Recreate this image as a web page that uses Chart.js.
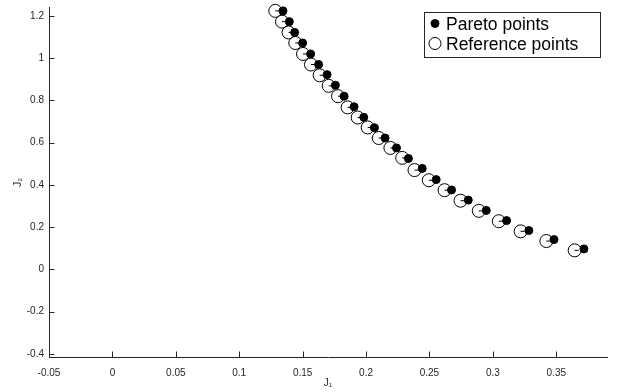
<!DOCTYPE html>
<html>
<head>
<meta charset="utf-8">
<script src="https://cdn.jsdelivr.net/npm/chart.js@4.4.0/dist/chart.umd.min.js"></script>
<style>
  html, body { margin: 0; padding: 0; background: #fff; }
  #wrap { width: 620px; height: 392px; position: relative; }
</style>
</head>
<body>
<div id="wrap"><canvas id="c" width="620" height="392"></canvas></div>
<script>
// ---- data ----
const paretoJ1 = [0.1345, 0.1395, 0.1437, 0.1500, 0.1563, 0.1626, 0.1693, 0.1758, 0.1827, 0.1906, 0.1982, 0.2066,
                  0.2150, 0.2240, 0.2334, 0.2443, 0.2553, 0.2674, 0.2806, 0.2948, 0.3108, 0.3284, 0.3482, 0.3718];
const paretoJ2 = [1.224, 1.173, 1.122, 1.072, 1.020, 0.970, 0.922, 0.872, 0.820, 0.770, 0.720, 0.670,
                  0.622, 0.575, 0.525, 0.478, 0.425, 0.376, 0.328, 0.279, 0.231, 0.184, 0.141, 0.097];
const refJ1 = [0.1284, 0.1337, 0.1389, 0.1442, 0.1503, 0.1566, 0.1634, 0.1705, 0.1779, 0.1855, 0.1934, 0.2013,
               0.2100, 0.2192, 0.2285, 0.2382, 0.2495, 0.2619, 0.2745, 0.2889, 0.3047, 0.3219, 0.3422, 0.3645];
const refJ2 = [1.224, 1.173, 1.122, 1.072, 1.020, 0.970, 0.919, 0.869, 0.820, 0.767, 0.719, 0.672,
               0.622, 0.575, 0.528, 0.470, 0.422, 0.375, 0.325, 0.277, 0.228, 0.180, 0.134, 0.090];
const seriesLabels = ['Pareto points', 'Reference points'];
const xAxisLabel = 'J\u2081';
const yAxisLabel = 'J\u2082';
const xTickStep = 0.05;
const yTickStep = 0.2;

const toPoints = (xs, ys) => xs.map((x, i) => ({ x: x, y: ys[i] }));
const FONT = "'Liberation Sans', Arial, Helvetica, 'DejaVu Sans', sans-serif";
const AXIS = '#262626';

// inward tick marks (MATLAB style)
const inwardTicks = {
  id: 'inwardTicks',
  afterDraw(chart) {
    const { ctx, chartArea } = chart;
    const xs = chart.scales.x, ys = chart.scales.y;
    ctx.save();
    ctx.strokeStyle = AXIS;
    ctx.lineWidth = 1;
    ctx.beginPath();
    xs.ticks.forEach(t => {
      const p = Math.round(xs.getPixelForValue(t.value)) + 0.5;
      ctx.moveTo(p, chartArea.bottom);
      ctx.lineTo(p, chartArea.bottom - 5.5);
    });
    ys.ticks.forEach(t => {
      const p = Math.round(ys.getPixelForValue(t.value)) + 0.5;
      ctx.moveTo(chartArea.left, p);
      ctx.lineTo(chartArea.left + 5.5, p);
    });
    ctx.stroke();
    ctx.restore();
  }
};

// boxed legend in upper right
const boxLegend = {
  id: 'boxLegend',
  afterDraw(chart) {
    const ctx = chart.ctx;
    const items = chart.data.datasets.filter(d => !d.hideInLegend);
    const bx = 424.5, by = 12.5, bw = 176, bh = 45;
    ctx.save();
    ctx.fillStyle = '#fff';
    ctx.fillRect(bx, by, bw, bh);
    ctx.strokeStyle = AXIS;
    ctx.lineWidth = 1;
    ctx.strokeRect(bx, by, bw, bh);
    ctx.font = '17.5px ' + FONT;
    ctx.textBaseline = 'alphabetic';
    ctx.textAlign = 'left';
    const rows = [23.5, 43.5];
    items.forEach((d, i) => {
      const cy = rows[i];
      const r = i === 0 ? 4 : 6;
      ctx.beginPath();
      ctx.arc(435, cy, r, 0, Math.PI * 2);
      if (d.backgroundColor && d.backgroundColor !== 'rgba(0,0,0,0)') {
        ctx.fillStyle = d.backgroundColor;
        ctx.fill();
      }
      ctx.strokeStyle = d.borderColor;
      ctx.lineWidth = 1;
      ctx.stroke();
      ctx.fillStyle = '#000';
      ctx.fillText(d.label, 446, cy + 6.3);
    });
    ctx.restore();
  }
};

const tickFmt = v => String(Math.round(v * 100) / 100);

new Chart(document.getElementById('c'), {
  type: 'scatter',
  data: {
    datasets: [
      {
        label: seriesLabels[0],
        data: toPoints(paretoJ1, paretoJ2),
        pointStyle: 'circle',
        pointRadius: 4,
        backgroundColor: '#000',
        borderColor: '#000',
        borderWidth: 1,
        clip: false,
        order: 0
      },
      {
        label: seriesLabels[1],
        data: toPoints(refJ1, refJ2),
        pointStyle: 'circle',
        pointRadius: 6.5,
        backgroundColor: 'rgba(0,0,0,0)',
        borderColor: '#000',
        borderWidth: 1,
        clip: false,
        order: 2
      },
      {
        label: seriesLabels[1] + ' centre',
        hideInLegend: true,
        data: toPoints(refJ1, refJ2),
        pointStyle: 'dash',
        pointRadius: 4,
        backgroundColor: '#000',
        borderColor: '#000',
        borderWidth: 1,
        clip: false,
        order: 1
      }
    ]
  },
  options: {
    responsive: false,
    animation: false,
    events: [],
    layout: { padding: { left: 0, right: 13, top: 5, bottom: 0 } },
    plugins: {
      legend: { display: false },
      tooltip: { enabled: false }
    },
    scales: {
      x: {
        type: 'linear',
        min: -0.05,
        max: 0.39,
        grid: { display: false, drawTicks: false },
        border: { display: true, color: AXIS, width: 1 },
        ticks: {
          stepSize: xTickStep,
          includeBounds: false,
          autoSkip: false,
          maxRotation: 0,
          padding: 10,
          color: AXIS,
          font: { family: FONT, size: 10 },
          callback: tickFmt
        },
        title: {
          display: true,
          text: xAxisLabel,
          color: AXIS,
          font: { family: FONT, size: 10 },
          padding: { top: 0, bottom: 3 }
        },
        afterFit(s) { s.height = 35; s.paddingLeft = 0; s.paddingRight = 0; s.paddingTop = 0; s.paddingBottom = 0; }
      },
      y: {
        type: 'linear',
        min: -0.415,
        max: 1.24,
        grid: { display: false, drawTicks: false },
        border: { display: true, color: AXIS, width: 1 },
        ticks: {
          stepSize: yTickStep,
          includeBounds: false,
          autoSkip: false,
          padding: 5,
          color: AXIS,
          font: { family: FONT, size: 10 },
          callback: tickFmt
        },
        title: {
          display: true,
          text: yAxisLabel,
          color: AXIS,
          font: { family: FONT, size: 10 },
          padding: { top: 12, bottom: 0 }
        },
        afterFit(s) { s.width = 49; s.paddingLeft = 0; s.paddingRight = 0; s.paddingTop = 0; s.paddingBottom = 0; }
      }
    }
  },
  plugins: [inwardTicks, boxLegend]
});
</script>
</body>
</html>
